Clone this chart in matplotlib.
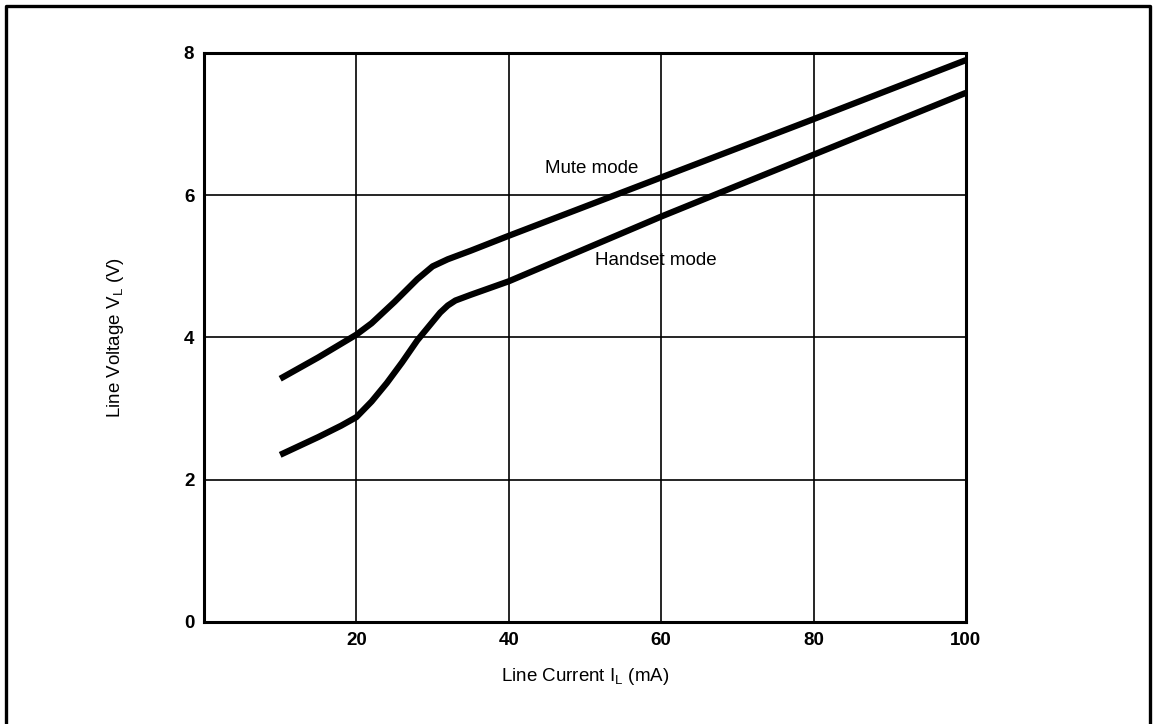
import matplotlib
matplotlib.use("Agg")
from matplotlib import pyplot as plt
from matplotlib.lines import Line2D

plt.rcParams["font.family"] = ["Liberation Sans", "DejaVu Sans"]
plt.rcParams["mathtext.fontset"] = "custom"
plt.rcParams["mathtext.rm"] = "Liberation Sans"

# Line current (mA) and line voltage (V) for each mode
mute_current = [10, 15, 20, 22, 25, 28, 30, 32, 35, 40, 60, 80, 100]
mute_voltage = [3.42, 3.72, 4.04, 4.20, 4.50, 4.82, 5.00, 5.10, 5.22, 5.43, 6.25, 7.07, 7.90]

handset_current = [10, 15, 18, 20, 22, 24, 26, 28, 30, 31, 32, 33, 35, 40, 60, 80, 100]
handset_voltage = [2.35, 2.60, 2.76, 2.88, 3.10, 3.36, 3.65, 3.96, 4.22, 4.35, 4.45, 4.52, 4.60, 4.79, 5.70, 6.57, 7.44]

x_ticks = [20, 40, 60, 80, 100]
y_ticks = [0, 2, 4, 6, 8]

fig = plt.figure(figsize=(11.55, 7.24), dpi=100)
ax = fig.add_axes([0.1766, 0.1409, 0.6597, 0.7859])

ax.plot(mute_current, mute_voltage, color="black", lw=4.5, solid_capstyle="butt")
ax.plot(handset_current, handset_voltage, color="black", lw=4.5, solid_capstyle="butt")

ax.set_xlim(0, 100)
ax.set_ylim(0, 8)
ax.set_xticks(x_ticks)
ax.set_yticks(y_ticks)
ax.grid(True, color="black", lw=1.2)
ax.tick_params(length=0, pad=7, labelsize=13.5)
for lbl in ax.get_xticklabels() + ax.get_yticklabels():
    lbl.set_fontweight("bold")
for side in ax.spines.values():
    side.set_linewidth(2.2)

ax.set_xlabel(r"Line Current I$_{\mathrm{L}}$ (mA)", fontsize=13.5)
ax.set_ylabel(r"Line Voltage V$_{\mathrm{L}}$ (V)", fontsize=13.5)
ax.xaxis.set_label_coords(0.5, -0.077)
ax.yaxis.set_label_coords(-0.102, 0.5)

ax.text(50.9, 6.37, "Mute mode", fontsize=13.5, ha="center", va="center")
ax.text(59.3, 5.08, "Handset mode", fontsize=13.5, ha="center", va="center")

# Border around the figure (open at the bottom)
w, h = 1155, 724
fx = [6 / w, 6 / w, 1150 / w, 1150 / w]
fy = [0, 1 - 6 / h, 1 - 6 / h, 0]
fig.add_artist(Line2D(fx, fy, transform=fig.transFigure, color="black", lw=2.4))

fig.savefig("out.png", dpi=100)
